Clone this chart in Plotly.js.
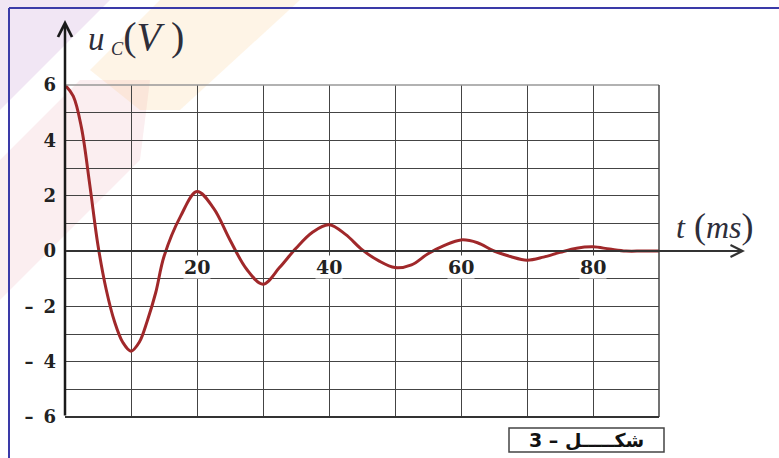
<!DOCTYPE html>
<html>
<head>
<meta charset="utf-8">
<script src="https://cdn.plot.ly/plotly-3.0.1.min.js"></script>
<style>
html,body{margin:0;padding:0;background:#fff;}
#chart{width:779px;height:458px;}
</style>
</head>
<body>
<div id="chart"></div>
<script>
// time (ms)
var tValues = [0, 1.25, 2.5, 3.75, 5, 6.25, 7.5, 8.75, 10, 11.25, 12.5, 13.75, 15, 17.5, 20, 22.5, 25, 27.5, 30, 32.5, 35, 37.5, 40, 42.5, 45, 47.5, 50, 52.5, 55, 57.5, 60, 62.5, 65, 67.5, 70, 72.5, 75, 77.5, 80, 82.5, 85, 87.5, 90];
// capacitor voltage u_C (V)
var ucValues = [6, 5.6, 4.45, 2.4, 0.2, -1.4, -2.55, -3.3, -3.62, -3.3, -2.5, -1.5, -0.2, 1.25, 2.15, 1.55, 0.4, -0.65, -1.2, -0.6, 0.1, 0.68, 0.95, 0.6, 0.05, -0.35, -0.6, -0.5, -0.1, 0.2, 0.4, 0.3, 0, -0.2, -0.33, -0.22, -0.05, 0.1, 0.15, 0.07, 0, 0, 0];
var yTickVals = [-6, -4, -2, 0, 2, 4, 6];
var yTickText = ["\u2013\u00a0\u20096", "\u2013\u00a0\u20094", "\u2013\u00a0\u20092", "0", "2", "4", "6"];
var xLabelVals = [20, 40, 60, 80];
var xLabelText = ["20", "40", "60", "80"];
var figureLabel = "3 \u2013 \u0634\u0643\u0640\u0640\u0640\u0640\u0640\u0644";

var L = 65, R = 120, T = 85, B = 41, W = 779, H = 458;
var pw = W - L - R, ph = H - T - B;
function px(x) { return (x - L) / pw; }
function py(y) { return (H - B - y) / ph; }
function poly(pts) {
  return pts.map(function (p, i) { return (i ? 'L' : 'M') + px(p[0]).toFixed(4) + ',' + py(p[1]).toFixed(4); }).join(' ') + ' Z';
}

var serif = 'Liberation Serif';
var tickFamily = 'DejaVu Serif';

var shapes = [
  // faint watermark
  {type: 'path', xref: 'paper', yref: 'paper', layer: 'below', path: poly([[0, 0], [110, 0], [0, 110]]), fillcolor: 'rgba(190,140,205,0.22)', line: {width: 0}},
  {type: 'path', xref: 'paper', yref: 'paper', layer: 'below', path: poly([[0, 160], [80, 80], [150, 80], [140, 160], [0, 300]]), fillcolor: 'rgba(230,150,160,0.16)', line: {width: 0}},
  {type: 'path', xref: 'paper', yref: 'paper', layer: 'below', path: poly([[160, 0], [300, 0], [180, 110], [140, 110], [90, 70]]), fillcolor: 'rgba(250,205,140,0.22)', line: {width: 0}},
  // blue frame
  {type: 'line', xref: 'paper', yref: 'paper', x0: px(9), x1: px(9), y0: py(8), y1: py(470), line: {color: '#3a3aa8', width: 2}},
  {type: 'line', xref: 'paper', yref: 'paper', x0: px(9), x1: px(800), y0: py(8), y1: py(8), line: {color: '#3a3aa8', width: 2}},
  // plot borders
  {type: 'line', xref: 'paper', yref: 'paper', x0: 0, x1: 1, y0: 1, y1: 1, line: {color: '#999', width: 1.5}},
  {type: 'line', xref: 'paper', yref: 'paper', x0: 1, x1: 1, y0: 0, y1: 1, line: {color: '#444', width: 1.5}},
  {type: 'line', xref: 'paper', yref: 'paper', x0: 0, x1: 1, y0: 0, y1: 0, line: {color: '#333', width: 2}},
  // figure label box
  {type: 'rect', xref: 'paper', yref: 'paper', x0: px(509), x1: px(664), y0: py(428), y1: py(452), line: {color: '#444', width: 1.5}, fillcolor: 'white'}
];

var annotations = [];
xLabelVals.forEach(function (v, i) {
  annotations.push({xref: 'x', yref: 'y', x: v, y: 0, yanchor: 'top', yshift: -4, showarrow: false,
    text: xLabelText[i], bgcolor: 'white', borderpad: 0,
    font: {family: tickFamily, size: 19, color: '#222', weight: 'bold'}});
});
annotations = annotations.concat([
  // y axis arrow
  {xref: 'x', yref: 'paper', x: 0, y: py(20), ax: 0, ay: 397, showarrow: true, arrowhead: 5, arrowsize: 1.1, arrowwidth: 2.5, arrowcolor: '#1a1a1a', text: ''},
  // x axis arrow
  {xref: 'paper', yref: 'y', x: px(745), y: 0, ax: -680, ay: 0, showarrow: true, arrowhead: 5, arrowsize: 1.3, arrowwidth: 1.8, arrowcolor: '#333', text: ''},
  // axis titles
  {xref: 'paper', yref: 'paper', x: px(86), y: py(37), xanchor: 'left', yanchor: 'middle', showarrow: false,
   text: '<i>u</i><span style="font-size:26px"> <sub><i>C</i></sub></span><span style="font-size:40px">(<i>V</i> )</span>',
   font: {family: serif, size: 33, color: '#2e2e3a'}},
  {xref: 'paper', yref: 'paper', x: px(674), y: py(226), xanchor: 'left', yanchor: 'middle', showarrow: false,
   text: '<i>t</i><span style="font-size:36px"> (</span><i>ms</i><span style="font-size:36px">)</span>',
   font: {family: serif, size: 32, color: '#2e2e3a'}},
  // figure label
  {xref: 'paper', yref: 'paper', x: px(586), y: py(440), xanchor: 'center', yanchor: 'middle', showarrow: false,
   text: figureLabel, font: {family: 'DejaVu Sans', size: 19, color: '#111', weight: 'bold'}}
]);

var trace = {
  x: tValues, y: ucValues, type: 'scatter', mode: 'lines',
  line: {color: '#a0282a', width: 3, shape: 'spline', smoothing: 1},
  hoverinfo: 'skip'
};

var layout = {
  width: W, height: H,
  margin: {l: L, r: R, t: T, b: B, pad: 0},
  paper_bgcolor: 'white', plot_bgcolor: 'rgba(0,0,0,0)',
  showlegend: false,
  xaxis: {range: [0, 90], dtick: 10, showgrid: true, gridcolor: '#444', gridwidth: 1,
          showticklabels: false, zeroline: false, showline: false, ticks: '', fixedrange: true},
  yaxis: {range: [-6, 6], tickvals: yTickVals, ticktext: yTickText, showgrid: true, gridcolor: '#444', gridwidth: 1,
          minor: {dtick: 1, showgrid: true, gridcolor: '#444', gridwidth: 1},
          zeroline: true, zerolinecolor: '#444', zerolinewidth: 2,
          ticks: '', ticklabelstandoff: 8, showline: false,
          tickfont: {family: tickFamily, size: 18, color: '#222', weight: 'bold'}, fixedrange: true},
  shapes: shapes,
  annotations: annotations
};

Plotly.newPlot('chart', [trace], layout, {displayModeBar: false, staticPlot: true});
</script>
</body>
</html>
